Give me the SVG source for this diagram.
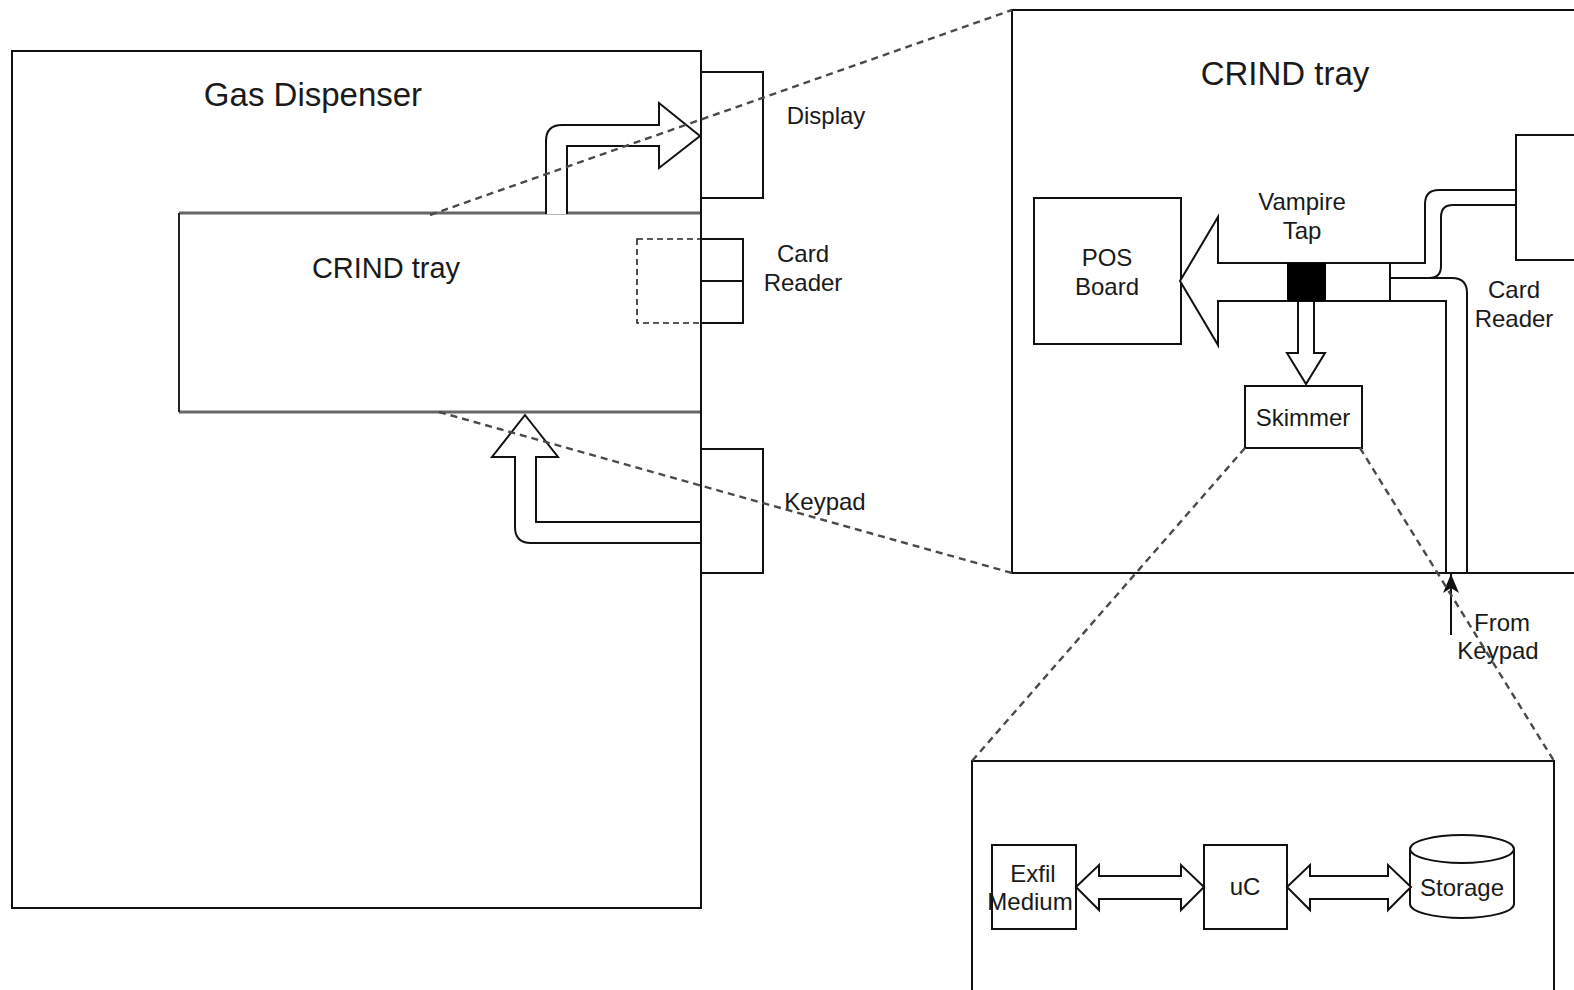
<svg xmlns="http://www.w3.org/2000/svg" width="1574" height="990" viewBox="0 0 1574 990">
<style>
.box{fill:none;stroke:#111;stroke-width:2}
.arr{fill:#fff;stroke:#111;stroke-width:2;stroke-linejoin:miter}
.wire{fill:none;stroke:#111;stroke-width:2}
.zoom{fill:none;stroke:#4a4a4a;stroke-width:2.4;stroke-dasharray:7 5}
text{font-family:"Liberation Sans",Arial,sans-serif;fill:#1a1a1a;text-anchor:middle}
.s{font-size:24px}
.l{font-size:33px}
</style>
<defs>
<marker id="ah" markerWidth="20" markerHeight="18" refX="19" refY="9" orient="auto" markerUnits="userSpaceOnUse">
<path d="M0,1 L19,9 L0,17 L5,9 Z" fill="#111"/>
</marker>
</defs>
<rect width="1574" height="990" fill="#fff"/>

<g id="gas-dispenser">
<rect class="box" x="12" y="51" width="689" height="857"/>
<text class="l" x="313" y="106">Gas Dispenser</text>
</g>

<g id="crind-tray-left">
<rect x="179" y="213" width="522" height="199" fill="#fff" stroke="none"/>
<line x1="179" y1="213" x2="701" y2="213" stroke="#666" stroke-width="3"/>
<line x1="179" y1="412" x2="701" y2="412" stroke="#666" stroke-width="3"/>
<line x1="179" y1="213" x2="179" y2="412" stroke="#222" stroke-width="2"/>
<line x1="701" y1="51" x2="701" y2="908" stroke="#111" stroke-width="2"/>
<text x="386" y="278" style="font-size:29px">CRIND tray</text>
</g>

<g id="display">
<rect class="box" x="701" y="72" width="62" height="126"/>
<text class="s" x="826" y="124">Display</text>
</g>

<g id="card-reader-left">
<rect x="637" y="239" width="64" height="84" fill="none" stroke="#222" stroke-width="1.6" stroke-dasharray="6 4"/>
<rect class="box" x="701" y="239" width="42" height="42"/>
<rect class="box" x="701" y="281" width="42" height="42"/>
<text class="s" x="803" y="262">Card</text>
<text class="s" x="803" y="291">Reader</text>
</g>

<g id="keypad">
<rect class="box" x="701" y="449" width="62" height="124"/>
<text class="s" x="825" y="510">Keypad</text>
</g>

<g id="crind-tray-right">
<rect class="box" x="1012" y="10" width="580" height="563"/>
<text class="l" x="1285" y="85">CRIND tray</text>
</g>

<g id="card-reader-right">
<rect class="box" x="1516" y="135" width="80" height="125"/>
<text class="s" x="1514" y="298">Card</text>
<text class="s" x="1514" y="327">Reader</text>
</g>

<g id="pos-board">
<rect class="box" x="1034" y="198" width="147" height="146"/>
<text class="s" x="1107" y="266">POS</text>
<text class="s" x="1107" y="295">Board</text>
</g>

<g id="vampire-tap">
<rect x="1287" y="263" width="39" height="38" fill="#000"/>
<text class="s" x="1302" y="210">Vampire</text>
<text class="s" x="1302" y="239">Tap</text>
</g>

<g id="skimmer">
<rect class="box" x="1245" y="386" width="117" height="62"/>
<text class="s" x="1303" y="426">Skimmer</text>
</g>

<g id="skimmer-detail">
<rect class="box" x="972" y="761" width="582" height="240"/>
</g>

<g id="exfil-medium">
<rect class="box" x="992" y="845" width="84" height="84"/>
<text class="s" x="1033" y="882">Exfil</text>
<text class="s" x="1030" y="910">Medium</text>
</g>

<g id="uc">
<rect class="box" x="1204" y="845" width="83" height="84"/>
<text class="s" x="1245" y="895">uC</text>
</g>

<g id="storage">
<path class="box" d="M1410,849 V904 A52,14 0 0 0 1514,904 V849" fill="#fff"/>
<ellipse class="box" cx="1462" cy="849" rx="52" ry="14"/>
<text class="s" x="1462" y="896">Storage</text>
</g>

<g id="connectors">
<path class="arr" d="M546,214 V141 Q546,125 562,125 H659 V103 L700,136 L659,168 V146 H567 V214"/>
<path class="arr" d="M700,522 H536 V457 H558 L525,415 L492,457 H515 V527 Q515,543 531,543 H700"/>
<path class="arr" d="M1390,263 H1218 V217 L1180,281 L1218,345 V301 H1390 Z"/>
<rect x="1287" y="263" width="39" height="38" fill="#000"/>
<path class="arr" d="M1298,302 V353 H1287 L1306,384 L1325,353 H1314 V302"/>
<path class="wire" d="M1516,190 H1439 Q1425,190 1425,204 V263 H1390"/>
<path class="wire" d="M1516,205 H1453 Q1441,205 1441,217 V266 Q1441,278 1429,278 H1390"/>
<path class="wire" d="M1429,278 H1452 Q1467,278 1467,293 V573"/>
<path class="wire" d="M1390,301 H1446 V573"/>
<line x1="1451" y1="635" x2="1451" y2="574" stroke="#111" stroke-width="2" marker-end="url(#ah)"/>
<text class="s" x="1502" y="631">From</text>
<text class="s" x="1498" y="659">Keypad</text>
<path class="arr" d="M1076,887 L1099,865 V876 H1181 V865 L1204,887 L1181,910 V899 H1099 V910 Z"/>
<path class="arr" d="M1287,887 L1310,865 V876 H1388 V865 L1411,887 L1388,910 V899 H1310 V910 Z"/>
<line class="zoom" x1="430" y1="215" x2="1012" y2="10"/>
<line class="zoom" x1="439" y1="412" x2="1012" y2="573"/>
<line class="zoom" x1="1245" y1="448" x2="972" y2="761"/>
<line class="zoom" x1="1360" y1="448" x2="1554" y2="761"/>
</g>
</svg>
